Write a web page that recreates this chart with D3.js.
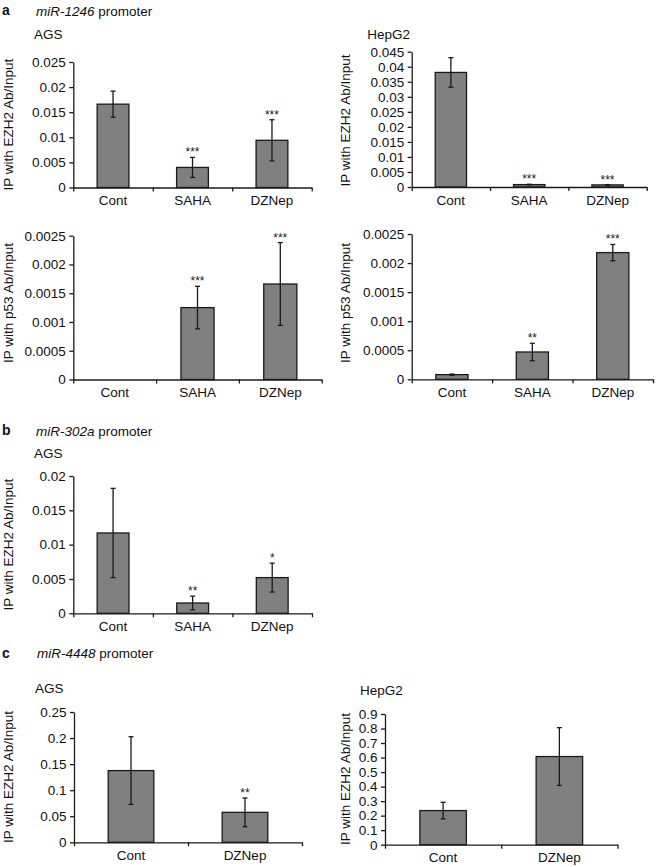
<!DOCTYPE html>
<html>
<head>
<meta charset="utf-8">
<script src="https://cdn.jsdelivr.net/npm/d3@7"></script>
<style>
  html, body { margin: 0; padding: 0; background: #fff; }
  svg { display: block; font-family: "Liberation Sans", Arial, Helvetica, sans-serif; }
</style>
</head>
<body>
<svg id="chart" width="659" height="867"></svg>
<script>
// ---------------- DATA ----------------
const catsThree = ["Cont", "SAHA", "DZNep"];
const catsTwo = ["Cont", "DZNep"];

// a: miR-1246 promoter
const agsEzh2_1246 = [0.0166, 0.0040, 0.0094];
const agsEzh2_1246Err = [0.0026, 0.0020, 0.0041];
const agsEzh2_1246Sig = ["", "***", "***"];

const hepEzh2_1246 = [0.0381, 0.0008, 0.0007];
const hepEzh2_1246Err = [0.0049, 0.0001, 0.0001];
const hepEzh2_1246Sig = ["", "***", "***"];

const agsP53_1246 = [0, 0.00125, 0.00166];
const agsP53_1246Err = [0, 0.00037, 0.00072];
const agsP53_1246Sig = ["", "***", "***"];

const hepP53_1246 = [0.00008, 0.00047, 0.00218];
const hepP53_1246Err = [0.00001, 0.00015, 0.00014];
const hepP53_1246Sig = ["", "**", "***"];

// b: miR-302a promoter
const agsEzh2_302a = [0.0117, 0.0015, 0.0052];
const agsEzh2_302aErr = [0.0065, 0.0010, 0.0021];
const agsEzh2_302aSig = ["", "**", "*"];

// c: miR-4448 promoter
const agsEzh2_4448 = [0.1376, 0.0575];
const agsEzh2_4448Err = [0.065, 0.0275];
const agsEzh2_4448Sig = ["", "**"];

const hepEzh2_4448 = [0.235, 0.607];
const hepEzh2_4448Err = [0.057, 0.199];
const hepEzh2_4448Sig = ["", ""];

// tick values
const ticksA1 = [0, 0.005, 0.01, 0.015, 0.02, 0.025];
const ticksA2 = [0, 0.005, 0.01, 0.015, 0.02, 0.025, 0.03, 0.035, 0.04, 0.045];
const ticksP53 = [0, 0.0005, 0.001, 0.0015, 0.002, 0.0025];
const ticksB = [0, 0.005, 0.01, 0.015, 0.02];
const ticksC1 = [0, 0.05, 0.1, 0.15, 0.2, 0.25];
const ticksC2 = [0, 0.1, 0.2, 0.3, 0.4, 0.5, 0.6, 0.7, 0.8, 0.9];

const titleEzh2 = "IP with EZH2 Ab/Input";
const titleP53 = "IP with p53 Ab/Input";

// ---------------- LAYOUT ----------------
const panels = [
  { cats: catsThree, vals: agsEzh2_1246, err: agsEzh2_1246Err, sig: agsEzh2_1246Sig, ticks: ticksA1, title: titleEzh2,
    x0: 73.3, x1: 311.7, yT: 62, yB: 187.5, tx: 13, ty: 124.7 },
  { cats: catsThree, vals: hepEzh2_1246, err: hepEzh2_1246Err, sig: hepEzh2_1246Sig, ticks: ticksA2, title: titleEzh2,
    x0: 411.7, x1: 646.7, yT: 51.7, yB: 187, tx: 350, ty: 120.5 },
  { cats: catsThree, vals: agsP53_1246, err: agsP53_1246Err, sig: agsP53_1246Sig, ticks: ticksP53, title: titleP53,
    x0: 73.3, x1: 321.7, yT: 235.7, yB: 379.5, tx: 13, ty: 303 },
  { cats: catsThree, vals: hepP53_1246, err: hepP53_1246Err, sig: hepP53_1246Sig, ticks: ticksP53, title: titleP53,
    x0: 411.7, x1: 653, yT: 234, yB: 379.3, tx: 350, ty: 303 },
  { cats: catsThree, vals: agsEzh2_302a, err: agsEzh2_302aErr, sig: agsEzh2_302aSig, ticks: ticksB, title: titleEzh2,
    x0: 73.3, x1: 312, yT: 476, yB: 613.3, tx: 13, ty: 544.7 },
  { cats: catsTwo, vals: agsEzh2_4448, err: agsEzh2_4448Err, sig: agsEzh2_4448Sig, ticks: ticksC1, title: titleEzh2,
    x0: 74, x1: 302, yT: 712, yB: 842.3, tx: 13, ty: 777 },
  { cats: catsTwo, vals: hepEzh2_4448, err: hepEzh2_4448Err, sig: hepEzh2_4448Sig, ticks: ticksC2, title: titleEzh2,
    x0: 385, x1: 617.5, yT: 714, yB: 844.7, tx: 350, ty: 779 }
];

const svg = d3.select("#chart");
const FS = 13.5;
const fmt = v => String(+v.toFixed(6));

panels.forEach(p => {
  const g = svg.append("g");
  const tmax = p.ticks[p.ticks.length - 1];
  const y = d3.scaleLinear().domain([0, tmax]).range([p.yB, p.yT]);
  const x = d3.scaleBand().domain(p.cats).range([p.x0, p.x1]).paddingInner(0).paddingOuter(0);
  const bounds = d3.scaleLinear().domain([0, p.cats.length]).range([p.x0, p.x1]);
  const step = x.step();
  const bw = step * 0.4;

  // bars
  g.selectAll("rect.bar").data(p.vals).join("rect")
    .attr("x", (d, i) => x(p.cats[i]) + (step - bw) / 2)
    .attr("y", d => y(d))
    .attr("width", bw)
    .attr("height", d => p.yB - y(d))
    .attr("fill", "#808080")
    .attr("stroke", "#1a1a1a")
    .attr("stroke-width", 1.3);

  // error bars
  p.vals.forEach((v, i) => {
    if (!p.err[i]) return;
    const cx = x(p.cats[i]) + step / 2;
    const t = y(v + p.err[i]), b = y(Math.max(0, v - p.err[i]));
    g.append("line").attr("x1", cx).attr("x2", cx).attr("y1", t).attr("y2", b)
      .attr("stroke", "#1a1a1a").attr("stroke-width", 1.3);
    [t, b].forEach(yy => g.append("line").attr("x1", cx - 2.5).attr("x2", cx + 2.5)
      .attr("y1", yy).attr("y2", yy).attr("stroke", "#1a1a1a").attr("stroke-width", 1.3));
  });

  // significance stars
  p.vals.forEach((v, i) => {
    if (!p.sig[i]) return;
    const cx = x(p.cats[i]) + step / 2;
    g.append("text").attr("x", cx).attr("y", y(v + p.err[i]) - 1)
      .attr("text-anchor", "middle").attr("font-size", 12).attr("fill", "#1a1a1a")
      .text(p.sig[i]);
  });

  // y axis
  const ya = g.append("g").attr("transform", `translate(${p.x0},0)`)
    .call(d3.axisLeft(y).tickValues(p.ticks).tickSize(4).tickSizeOuter(0).tickPadding(3.5).tickFormat(fmt));
  ya.selectAll("text").attr("font-size", FS).attr("font-family", null).attr("fill", "#111");
  ya.selectAll("line, path").attr("stroke", "#1a1a1a").attr("stroke-width", 1.3);

  // x axis boundary ticks
  const xb = g.append("g").attr("transform", `translate(0,${p.yB})`)
    .call(d3.axisBottom(bounds).ticks(p.cats.length).tickValues(d3.range(p.cats.length + 1))
      .tickSize(4).tickSizeOuter(0).tickFormat(""));
  xb.selectAll("line, path").attr("stroke", "#1a1a1a").attr("stroke-width", 1.3);

  // x labels
  const xl = g.append("g").attr("transform", `translate(0,${p.yB})`)
    .call(d3.axisBottom(x).tickSize(0).tickPadding(8));
  xl.select(".domain").remove();
  xl.selectAll("text").attr("font-size", FS).attr("font-family", null).attr("fill", "#111");

  // y title
  g.append("text").attr("transform", `translate(${p.tx},${p.ty}) rotate(-90)`)
    .attr("text-anchor", "middle").attr("font-size", FS).attr("fill", "#111")
    .text(p.title);
});

// ---------------- headings ----------------
const headings = [
  { letter: "a", gene: "miR-1246", lx: 2, ly: 15, tx: 36, ty: 15.5 },
  { letter: "b", gene: "miR-302a", lx: 2, ly: 435, tx: 36, ty: 435.5 },
  { letter: "c", gene: "miR-4448", lx: 2, ly: 658, tx: 37, ty: 658 }
];
headings.forEach(h => {
  svg.append("text").attr("x", h.lx).attr("y", h.ly).attr("font-size", 14).attr("font-weight", "bold")
    .attr("fill", "#111").text(h.letter);
  const t = svg.append("text").attr("x", h.tx).attr("y", h.ty).attr("font-size", FS).attr("fill", "#111");
  t.append("tspan").attr("font-style", "italic").text(h.gene);
  t.append("tspan").text(" promoter");
});

const cellLabels = [
  { text: "AGS", x: 34, y: 39.3 },
  { text: "HepG2", x: 367.3, y: 39 },
  { text: "AGS", x: 34, y: 458.3 },
  { text: "AGS", x: 35, y: 693.3 },
  { text: "HepG2", x: 360, y: 695 }
];
cellLabels.forEach(c => svg.append("text").attr("x", c.x).attr("y", c.y)
  .attr("font-size", FS).attr("fill", "#111").text(c.text));
</script>
</body>
</html>
